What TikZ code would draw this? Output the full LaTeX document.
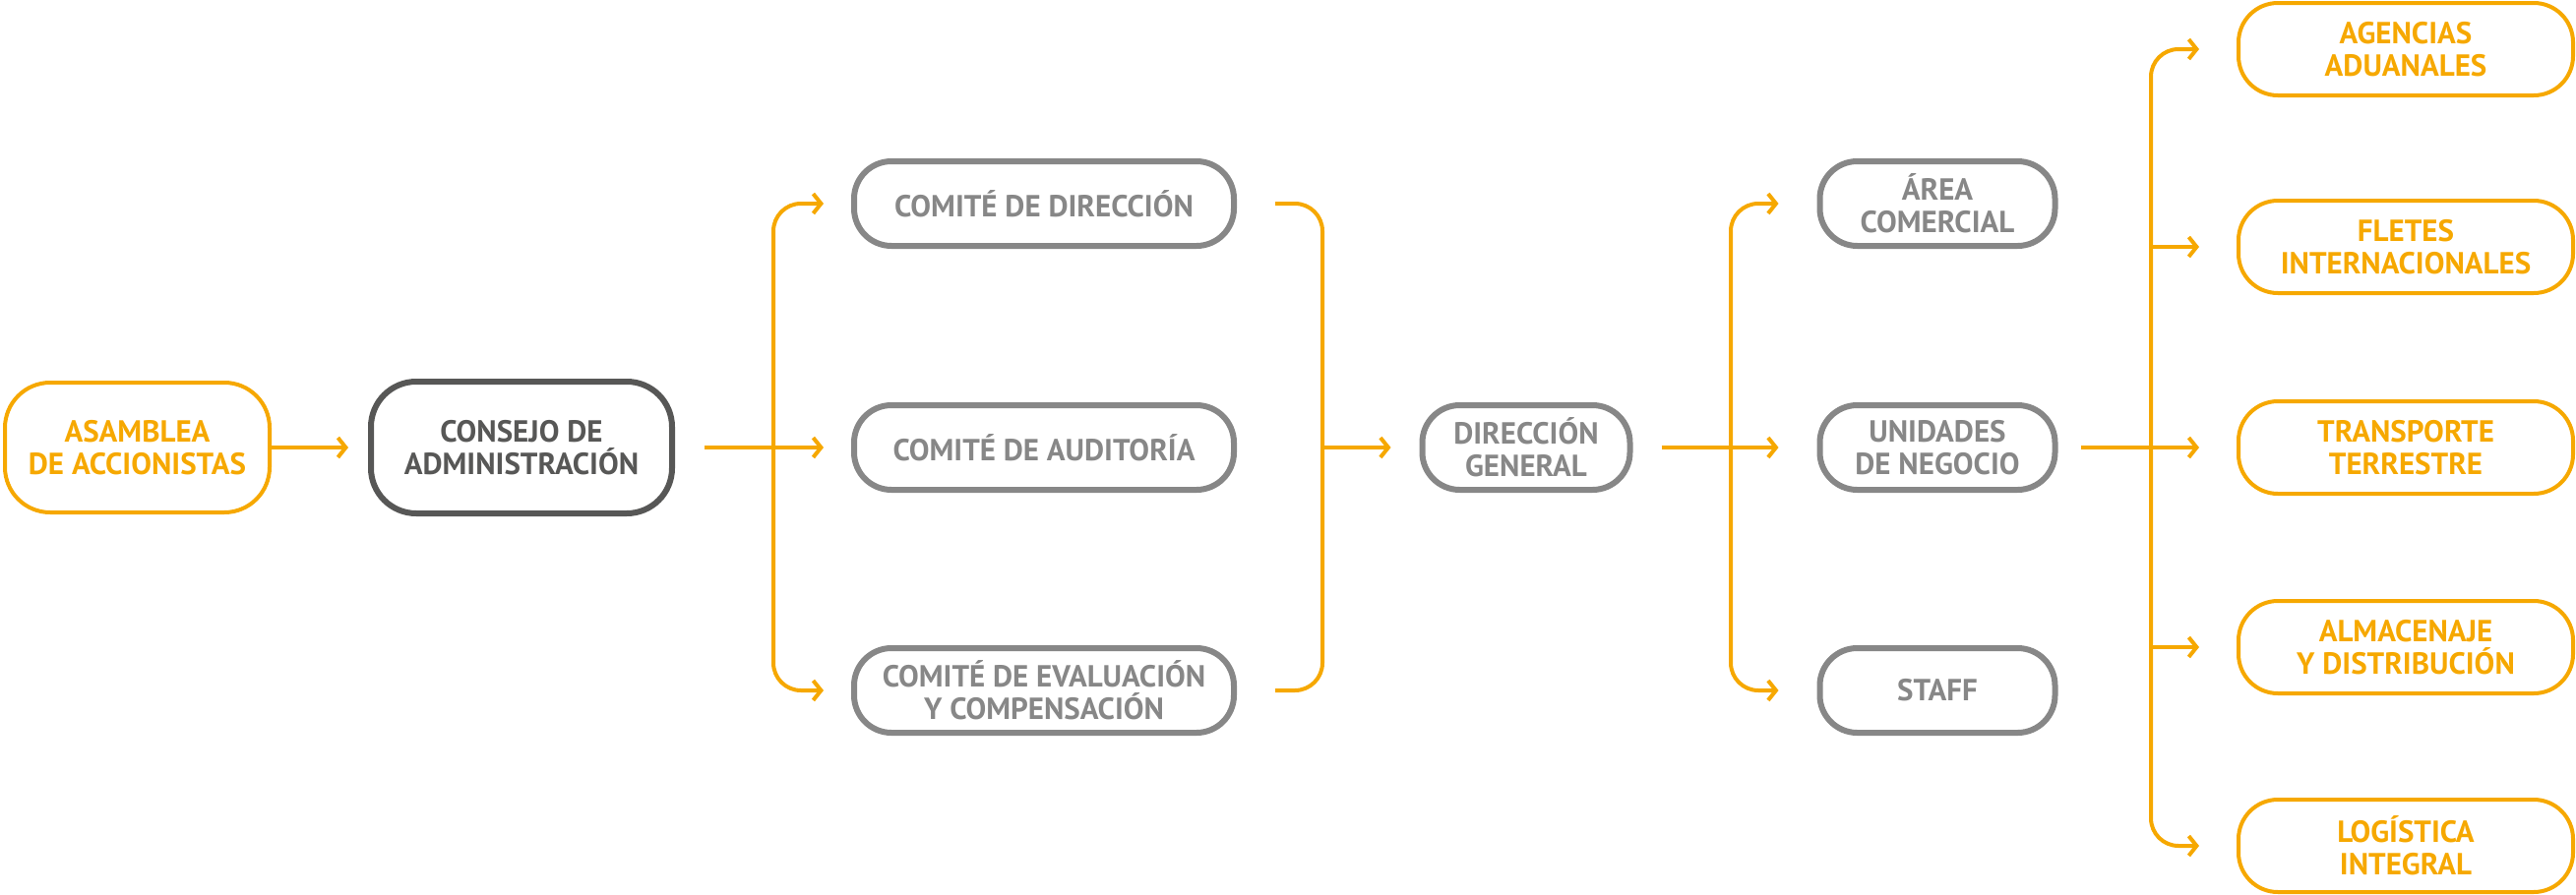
\documentclass[tikz,border=0pt]{standalone}
\usepackage{fontspec}
\setmainfont{PT Sans}
\usetikzlibrary{arrows.meta}
\definecolor{org}{RGB}{246,168,0}
\definecolor{gry}{RGB}{135,135,135}
\definecolor{drk}{RGB}{87,87,86}
\begin{document}
\begin{tikzpicture}[x=1pt,y=-1pt,
  base/.style={rectangle, align=center, inner sep=0pt, font=\fontsize{31}{33}\selectfont\bfseries},
  obox/.style={base, draw=org, text=org, line width=4pt, rounded corners=40pt, minimum width=340pt, minimum height=94pt},
  gbox/.style={base, draw=gry, text=gry, line width=6pt, rounded corners=38pt, minimum height=86pt},
  dbox/.style={base, draw=drk, text=drk, line width=6pt, rounded corners=46pt},
  conn/.style={draw=org, line width=4pt},
  arr/.style={conn, -{Straight Barb[length=8pt,width=20pt]}}]
\useasboundingbox (0,0) rectangle (2618,910);

\node[obox, minimum width=269pt, minimum height=132pt, rounded corners=46pt] (asamblea) at (139.5,455) {ASAMBLEA\\DE ACCIONISTAS};
\node[dbox, minimum width=306pt, minimum height=134pt] (consejo) at (530,455) {CONSEJO DE\\ADMINISTRACIÓN};

\node[gbox, minimum width=386pt] (cdir) at (1061,207) {COMITÉ DE DIRECCIÓN};
\node[gbox, minimum width=386pt] (caud) at (1061,455) {COMITÉ DE AUDITORÍA};
\node[gbox, minimum width=386pt] (ceval) at (1061,702) {COMITÉ DE EVALUACIÓN\\Y COMPENSACIÓN};

\node[gbox, minimum width=211pt] (dg) at (1551,455) {DIRECCIÓN\\GENERAL};

\node[gbox, minimum width=239pt] (area) at (1969,207) {ÁREA\\COMERCIAL};
\node[gbox, minimum width=239pt] (unid) at (1969,455) {UNIDADES\\DE NEGOCIO};
\node[gbox, minimum width=239pt] (staff) at (1969,702) {STAFF};

\node[obox] (agencias) at (2445,50) {AGENCIAS\\ADUANALES};
\node[obox] (fletes) at (2445,251) {FLETES\\INTERNACIONALES};
\node[obox] (transp) at (2445,455) {TRANSPORTE\\TERRESTRE};
\node[obox] (almac) at (2445,658) {ALMACENAJE\\Y DISTRIBUCIÓN};
\node[obox] (logist) at (2445,860) {LOGÍSTICA\\INTEGRAL};

\coordinate (lb) at (786,455);
\coordinate (rb) at (1344,455);
\coordinate (mb) at (1759,455);
\coordinate (rv) at (2186,455);

\draw[arr] (asamblea.east) -- ([xshift=-20pt]consejo.west);

\draw[conn] ([xshift=30pt]consejo.east) -- (lb);
\draw[arr] (lb) -- ([xshift=-28pt]caud.west);
\draw[arr, rounded corners=28pt] (lb) |- ([xshift=-28pt]cdir.west);
\draw[arr, rounded corners=28pt] (lb) |- ([xshift=-28pt]ceval.west);

\draw[conn, rounded corners=28pt] ([xshift=39pt]cdir.east) -| (rb);
\draw[conn, rounded corners=28pt] ([xshift=39pt]ceval.east) -| (rb);
\draw[arr] (rb) -- ([xshift=-29pt]dg.west);

\draw[conn] ([xshift=29pt]dg.east) -- (mb);
\draw[arr] (mb) -- ([xshift=-39pt]unid.west);
\draw[arr, rounded corners=28pt] (mb) |- ([xshift=-39pt]area.west);
\draw[arr, rounded corners=28pt] (mb) |- ([xshift=-39pt]staff.west);

\draw[conn] ([xshift=23pt]unid.east) -- (rv);
\draw[arr] (rv) -- ([xshift=-38pt]transp.west);
\draw[arr, rounded corners=28pt] (rv) |- ([xshift=-38pt]agencias.west);
\draw[arr, rounded corners=28pt] (rv) |- ([xshift=-38pt]logist.west);
\draw[arr] (rv |- fletes.west) -- ([xshift=-38pt]fletes.west);
\draw[arr] (rv |- almac.west) -- ([xshift=-38pt]almac.west);
\end{tikzpicture}
\end{document}
